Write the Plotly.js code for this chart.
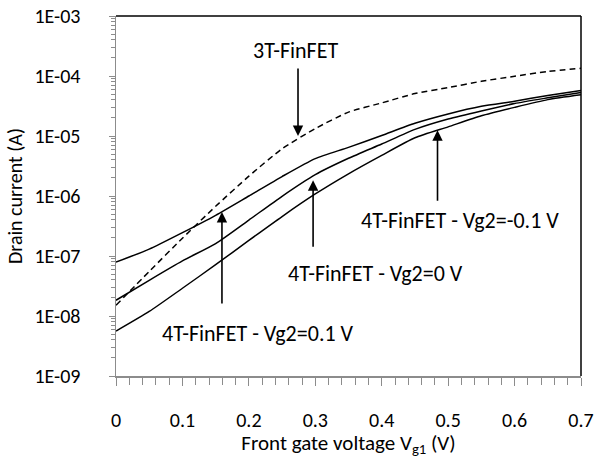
<!DOCTYPE html>
<html>
<head>
<meta charset="utf-8">
<script src="https://cdn.plot.ly/plotly-3.0.1.min.js"></script>
<style>html,body{margin:0;padding:0;background:#fff;}#chart{width:595px;height:458px;}</style>
</head>
<body>
<div id="chart"></div>
<script>
const vg1 = [0, 0.05, 0.1, 0.15, 0.2, 0.25, 0.3, 0.35, 0.4, 0.45, 0.5, 0.55, 0.6, 0.65, 0.7];
const id3T = [1.51e-8, 5.52e-8, 1.98e-7, 6.73e-7, 2.14e-6, 6.12e-6, 1.33e-5, 2.5e-5, 3.56e-5, 5.09e-5, 6.41e-5, 8.17e-5, 9.89e-5, 1.19e-4, 1.34e-4];
const id4Tp01 = [7.9e-8, 1.30e-7, 2.45e-7, 4.77e-7, 1.0e-6, 2.11e-6, 4.2e-6, 6.46e-6, 1.02e-5, 1.63e-5, 2.33e-5, 3.13e-5, 3.8e-5, 4.73e-5, 5.73e-5];
const id4T0 = [1.83e-8, 3.94e-8, 8.3e-8, 1.61e-7, 3.97e-7, 9.9e-7, 2.27e-6, 4.25e-6, 7.36e-6, 1.29e-5, 1.92e-5, 2.62e-5, 3.48e-5, 4.33e-5, 5.33e-5];
const id4Tm01 = [5.6e-9, 1.19e-8, 2.9e-8, 7.16e-8, 1.82e-7, 4.55e-7, 1.08e-6, 2.34e-6, 4.75e-6, 9.33e-6, 1.42e-5, 2.17e-5, 3.0e-5, 4.04e-5, 4.86e-5];
const yTickVals = [1e-9, 1e-8, 1e-7, 1e-6, 1e-5, 1e-4, 1e-3];
const yTickText = ["1E-09", "1E-08", "1E-07", "1E-06", "1E-05", "1E-04", "1E-03"];
const xTickVals = [0, 0.1, 0.2, 0.3, 0.4, 0.5, 0.6, 0.7];
const xTickText = ["0", "0.1", "0.2", "0.3", "0.4", "0.5", "0.6", "0.7"];

const FONT = "Carlito, Lato, 'Open Sans', sans-serif";
const lineStyle = {color: '#000', width: 1.5, shape: 'spline', smoothing: 0.6};

const traces = [
  {x: vg1, y: id3T, mode: 'lines', line: {color: '#000', width: 1.5, dash: '6px,4px', shape: 'spline', smoothing: 0.6}, name: '3T-FinFET'},
  {x: vg1, y: id4Tp01, mode: 'lines', line: lineStyle, name: 'Vg2=0.1 V'},
  {x: vg1, y: id4T0, mode: 'lines', line: lineStyle, name: 'Vg2=0 V'},
  {x: vg1, y: id4Tm01, mode: 'lines', line: lineStyle, name: 'Vg2=-0.1 V'}
];

function arrow(x, ylog, ay) {
  return {x: x, y: ylog, xref: 'x', yref: 'y', ax: 0, ay: ay, showarrow: true,
    arrowhead: 2, arrowsize: 1.3, arrowwidth: 1.6, arrowcolor: '#000', text: ''};
}
function label(x, ylog, t) {
  return {x: x, y: ylog, xref: 'x', yref: 'y', showarrow: false, text: t,
    font: {family: FONT, size: 22, color: '#000'}};
}

const layout = {
  width: 595, height: 458,
  margin: {l: 115.5, r: 13.5, t: 15.7, b: 82},
  paper_bgcolor: '#fff', plot_bgcolor: '#fff',
  showlegend: false,
  font: {family: FONT, size: 20, color: '#000'},
  xaxis: {
    range: [0, 0.7], tickvals: xTickVals, ticktext: xTickText,
    showgrid: false, zeroline: false, showline: true, linecolor: '#8c8c8c', linewidth: 1.5,
    ticks: 'outside', ticklen: 8, tickcolor: '#8c8c8c', tickwidth: 1,
    minor: {ticks: 'outside', ticklen: 7, tickcolor: '#8c8c8c', dtick: 0.02},
    tickfont: {family: FONT, size: 20, color: '#000'},
    ticklabelstandoff: 17,
    title: {text: 'Front gate voltage V<sub>g1</sub> (V)', font: {family: FONT, size: 21, color: '#000'}, standoff: 9}
  },
  yaxis: {
    type: 'log', range: [-9, -3], tickvals: yTickVals, ticktext: yTickText,
    showgrid: false, zeroline: false, showline: true, linecolor: '#8c8c8c', linewidth: 1.5,
    ticks: 'outside', ticklen: 6, tickcolor: '#8c8c8c', tickwidth: 1,
    minor: {ticks: 'outside', ticklen: 4, tickcolor: '#8c8c8c', dtick: 'D1'},
    tickfont: {family: FONT, size: 20, color: '#000'},
    ticklabelstandoff: 24,
    title: {text: 'Drain current (A)', font: {family: FONT, size: 20, color: '#000'}, standoff: 6}
  },
  shapes: [
    {type: 'line', xref: 'paper', yref: 'paper', x0: 0, x1: 1, y0: 1, y1: 1, line: {color: '#000', width: 1.5}},
    {type: 'line', xref: 'paper', yref: 'paper', x0: 1, x1: 1, y0: 0, y1: 1, line: {color: '#000', width: 1.5}}
  ],
  annotations: [
    arrow(0.274, -5.0, -69),
    arrow(0.1595, -6.267, 93),
    arrow(0.2967, -5.738, 68),
    arrow(0.484, -4.905, 72),
    label(0.27, -3.572, '3T-FinFET'),
    label(0.5175, -6.405, '4T-FinFET - Vg2=-0.1 V'),
    label(0.3913, -7.288, '4T-FinFET - Vg2=0 V'),
    label(0.214, -8.288, '4T-FinFET - Vg2=0.1 V')
  ]
};

Plotly.newPlot('chart', traces, layout, {staticPlot: true, displayModeBar: false});
</script>
</body>
</html>
